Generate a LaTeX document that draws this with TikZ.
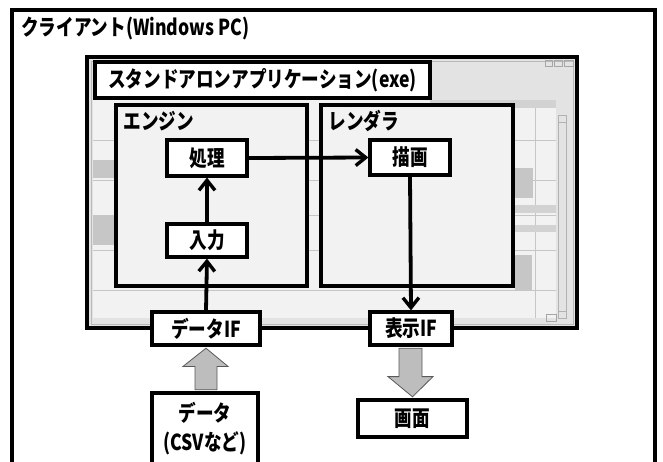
\documentclass[tikz,border=0pt]{standalone}
\usepackage{fontspec}
\setmainfont{Noto Sans CJK JP}[FakeStretch=0.8]
\usetikzlibrary{arrows.meta,calc}
\tikzset{
  box/.style={draw=black,line width=3.2pt,fill=white,inner sep=0pt,font=\bfseries\fontsize{22pt}{24pt}\selectfont,align=center},
  frame/.style={draw=black,line width=3.4pt},
  flow/.style={line width=3.8pt,-{Straight Barb[length=10pt,width=16pt,line width=3.4pt]}},
  garrow/.style={fill=gray!52,draw=gray!70!black,line width=0.8pt},
  lbl/.style={font=\bfseries\fontsize{22pt}{24pt}\selectfont,inner sep=0pt,anchor=west},
  grid/.style={draw=gray!45,line width=0.6pt},
  patch/.style={fill=gray!45,draw=none},
}
\begin{document}
\begin{tikzpicture}[x=1pt,y=-1pt]
\useasboundingbox (0,0) rectangle (663,461);
\clip (0,0) rectangle (663,461);
\fill[white] (0,0) rectangle (663,461);
% outer client frame
\draw[frame] (12,10) rectangle (655,475);
\node[lbl] (client) at (21,29) {クライアント(Windows PC)};
% application window
\fill[gray!22] (87,57) rectangle (577,328);
\fill[gray!10] (93,100) rectangle (556,318);
% faux chart background
\foreach \y in {140,180,215,250,290} { \draw[grid] (93,\y) -- (556,\y); }
\draw[grid] (535,100) -- (535,318);
\fill[patch] (515,168) rectangle (533,198);
\fill[patch] (515,255) rectangle (532,290);
\fill[patch] (93,215) rectangle (115,245);
\fill[patch] (93,160) rectangle (115,178);
\fill[gray!35] (430,100) rectangle (556,108);
\fill[gray!35] (515,205) rectangle (556,213);
\fill[gray!35] (515,225) rectangle (556,232);
\draw[gray!55,line width=0.5pt] (91,61) rectangle (573,324);
\draw[gray!60,line width=0.6pt] (558,115) rectangle (566,318);
\draw[gray!60,line width=0.5pt] (558,115) -- (566,115) (558,122) -- (566,122) (558,311) -- (566,311);
\draw[gray!70,line width=0.6pt] (545,60) rectangle (552,66) (554,60) rectangle (562,66) (564,60) rectangle (573,66);
\draw[gray!70,line width=0.5pt] (546,314) rectangle (556,321);
\draw[frame] (87,57) rectangle (577,328);
\node[box,minimum width=335pt,minimum height=36pt] (app) at (262.5,80) {スタンドアロンアプリケーション(exe)};
% engine and renderer
\node[box,fill=white!90!gray,minimum width=191pt,minimum height=181pt] (engine) at (211.5,195.5) {};
\node[box,fill=white!90!gray,minimum width=192pt,minimum height=181pt] (renderer) at (417,195.5) {};
\node[lbl] (englbl) at ($(engine.north west)+(9,18)$) {エンジン};
\node[lbl] (renlbl) at ($(renderer.north west)+(9,18)$) {レンダラ};
\node[box,minimum width=80pt,minimum height=36pt] (proc) at (207,158) {処理};
\node[box,minimum width=80pt,minimum height=33pt] (input) at (207,240.5) {入力};
\node[box,minimum width=80pt,minimum height=35pt] (rend) at (410,157.5) {描画};
\node[box,minimum width=108pt,minimum height=33pt] (dataif) at (206,328.5) {データIF};
\node[box,minimum width=82pt,minimum height=33pt] (dispif) at (411,328.5) {表示IF};
\node[box,minimum width=106pt,minimum height=72pt] (csv) at (205,429) {データ\\[5pt](CSVなど)};
\node[box,minimum width=109pt,minimum height=37pt] (screen) at (412.5,418.5) {画面};
% flows
\draw[flow] (proc.east) -- (rend.west);
\draw[flow] (input.north) -- (proc.south);
\draw[flow] (dataif.north) -- (input.south);
\draw[flow] (rend.south) -- (dispif.north);
% wide gray arrows
\draw[garrow] ($(csv.north)+(-10,-1.6)$) -- ++(0,-23.4) -- ++(-12,0) -- ($(dataif.south)+(0,1.6)$) -- ($(csv.north)+(23,-25)$) -- ++(-11,0) -- ($(csv.north)+(12,-1.6)$) -- cycle;
\draw[garrow] ($(dispif.south)+(-12,1.6)$) -- ++(0,28.4) -- ++(-11,0) -- ($(screen.north)+(0,-1.6)$) -- ($(dispif.south)+(22,30)$) -- ++(-11,0) -- ($(dispif.south)+(11,1.6)$) -- cycle;
\end{tikzpicture}
\end{document}
